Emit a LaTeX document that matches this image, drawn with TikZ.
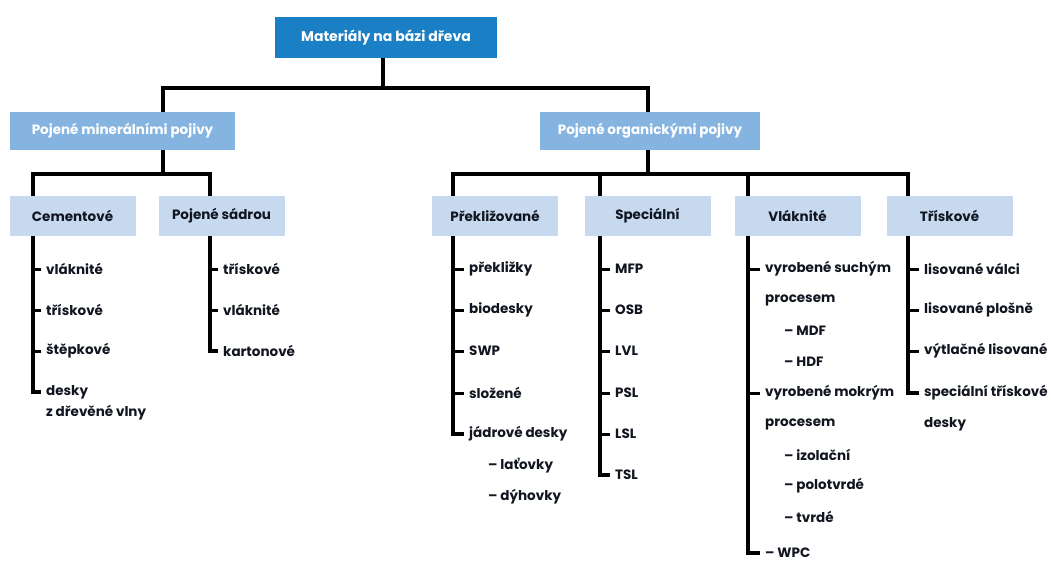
\documentclass[tikz,border=0pt]{standalone}
\usepackage{fontspec}
\usetikzlibrary{calc}
\setmainfont{Poppins}
\definecolor{topblue}{HTML}{1A7FC4}
\definecolor{midblue}{HTML}{86B4E0}
\definecolor{lightblue}{HTML}{C6D9EF}
\definecolor{navy}{HTML}{10151F}
\begin{document}
\begin{tikzpicture}[x=1pt,y=-1pt,
  line/.style={line width=3.6pt,black},
  topbox/.style={fill=topblue,text=white,font=\fontsize{14}{16}\selectfont\bfseries,minimum width=222pt,minimum height=41pt,inner sep=0pt},
  catbox/.style={fill=midblue,text=white,font=\fontsize{13.5}{16}\selectfont\bfseries,minimum width=225pt,minimum height=38pt,inner sep=0pt},
  subbox/.style={fill=lightblue,text=navy,font=\fontsize{13.5}{16}\selectfont\bfseries,minimum width=126pt,minimum height=40pt,inner sep=0pt},
  item/.style={anchor=west,text=navy,font=\fontsize{13.5}{16}\selectfont\bfseries,inner sep=0pt},
  tickline/.style={line width=3pt,black}
]
\useasboundingbox (0,0) rectangle (1051,562);
\newcommand{\tk}[2]{\draw[tickline] ($(#1.west)+(-#2,0)$) -- ($(#1.west)+(-5,0)$);}
% top
\node[topbox] (top) at (386,37.5) {Materiály na bázi dřeva};
\node[catbox] (min) at (122.5,131) {Pojené minerálními pojivy};
\node[catbox,minimum width=220pt] (org) at (650,131) {Pojené organickými pojivy};
\coordinate (h1) at (383,88);
\draw[line] (top.south -| h1) -- (h1);
\draw[line] (min.north -| 163,0) |- (h1) -| (org.north -| 648,0);
% subcategories
\node[subbox] (cem) at (72.5,216) {Cementové};
\node[subbox] (sad) at (221.5,216) {Pojené sádrou};
\node[subbox] (pre) at (495,216) {Překližované};
\node[subbox] (spe) at (647.5,216) {Speciální};
\node[subbox] (vla) at (797.5,216) {Vláknité};
\node[subbox] (tri) at (949.5,216) {Třískové};
\coordinate (h2) at (163,174);
\coordinate (h3) at (648,174);
\coordinate (hs) at (600,174);
\coordinate (hv) at (748,174);
\draw[line] (min.south -| h2) -- (h2);
\draw[line] (cem.north -| 33,0) |- (h2) -| (sad.north -| 210,0);
\draw[line] (org.south -| h3) -- (h3);
\draw[line] (pre.north -| 453,0) |- (h3) -| (tri.north -| 908,0);
\draw[line] (spe.north -| hs) -- (hs);
\draw[line] (vla.north -| hv) -- (hv);
% Cementove
\node[item] (c1) at (46,269) {vláknité};
\node[item] (c2) at (46,310) {třískové};
\node[item] (c3) at (46,351) {štěpkové};
\node[item] (c4) at (46,392) {desky};
\node[item] (c5) at (46,413) {z dřevěné vlny};
\draw[line] (cem.south -| 33,0) |- ($(c4.west)+(-5,0)$);
\tk{c1}{14}\tk{c2}{14}\tk{c3}{14}
% Pojene sadrou
\node[item] (s1) at (223,269) {třískové};
\node[item] (s2) at (223,310) {vláknité};
\node[item] (s3) at (223,351) {kartonové};
\draw[line] (sad.south -| 210,0) |- ($(s3.west)+(-5,0)$);
\tk{s1}{14}\tk{s2}{14}
% Preklizovane
\node[item] (p1) at (469,269) {překližky};
\node[item] (p2) at (469,310) {biodesky};
\node[item] (p3) at (469,351) {SWP};
\node[item] (p4) at (469,393) {složené};
\node[item] (p5) at (469,434) {jádrové desky};
\node[item] (p6) at (488,466) {– laťovky};
\node[item] (p7) at (488,497) {– dýhovky};
\draw[line] (pre.south -| 453,0) |- ($(p5.west)+(-5,0)$);
\tk{p1}{17}\tk{p2}{17}\tk{p3}{17}\tk{p4}{17}
% Specialni
\node[item] (q1) at (615,269) {MFP};
\node[item] (q2) at (615,310) {OSB};
\node[item] (q3) at (615,351) {LVL};
\node[item] (q4) at (615,393) {PSL};
\node[item] (q5) at (615,434) {LSL};
\node[item] (q6) at (615,475) {TSL};
\draw[line] (spe.south -| hs) |- ($(q6.west)+(-5,0)$);
\tk{q1}{16}\tk{q2}{16}\tk{q3}{16}\tk{q4}{16}\tk{q5}{16}
% Vlaknite
\node[item] (v1) at (765,269) {vyrobené suchým};
\node[item] (v2) at (765,300) {procesem};
\node[item] (v3) at (784,331) {– MDF};
\node[item] (v4) at (784,362) {– HDF};
\node[item] (v5) at (765,393) {vyrobené mokrým};
\node[item] (v6) at (765,424) {procesem};
\node[item] (v7) at (784,455) {– izolační};
\node[item] (v8) at (784,486) {– polotvrdé};
\node[item] (v9) at (784,517) {– tvrdé};
\node[item] (v10) at (765,553) {– WPC};
\draw[line] (vla.south -| hv) |- ($(v10.west)+(-5,0)$);
\tk{v1}{18}\tk{v5}{18}
% Triskove
\node[item] (t1) at (924,269) {lisované válci};
\node[item] (t2) at (924,310) {lisované plošně};
\node[item] (t3) at (924,351) {výtlačné lisované};
\node[item] (t4) at (924,393) {speciální třískové};
\node[item] (t5) at (924,424) {desky};
\draw[line] (tri.south -| 908,0) |- ($(t4.west)+(-5,0)$);
\tk{t1}{17}\tk{t2}{17}\tk{t3}{17}
\end{tikzpicture}
\end{document}
